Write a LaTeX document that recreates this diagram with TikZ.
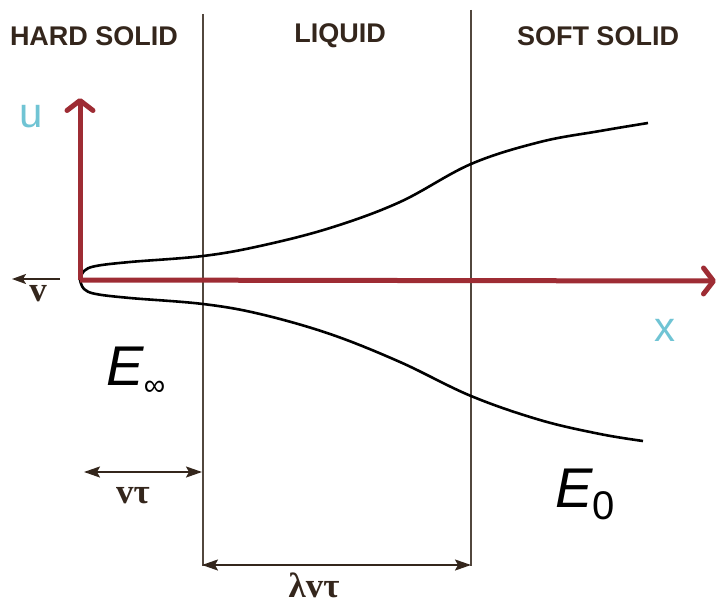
\documentclass[tikz,border=0pt]{standalone}
\usepackage{fontspec}
\usetikzlibrary{arrows.meta}
\newfontfamily\headfont{Liberation Sans}
\newfontfamily\greekfont{Liberation Serif}
\definecolor{axisred}{RGB}{158,44,52}
\definecolor{inkbrown}{RGB}{52,38,28}
\definecolor{labelcyan}{RGB}{112,196,212}
\tikzset{
  axis/.style={line width=5pt, draw=axisred, -{Straight Barb[length=10pt,width=26pt,line width=5pt,line cap=round,line join=round]}},
  boundary/.style={line width=1.2pt, draw=inkbrown!85},
  profile/.style={line width=2.6pt, draw=black},
  dimarrow/.style={line width=2pt, draw=inkbrown, {Stealth[length=16pt,width=11pt,inset=3pt]}-{Stealth[length=16pt,width=11pt,inset=3pt]}},
  header/.style={text=inkbrown, font=\headfont\bfseries\fontsize{27}{30}\selectfont},
  dimlabel/.style={text=inkbrown, font=\greekfont\bfseries\fontsize{35}{37}\selectfont},
  axislabel/.style={text=labelcyan, font=\headfont\fontsize{42}{44}\selectfont},
  modlabel/.style={font=\headfont\itshape\fontsize{56}{58}\selectfont}
}
\begin{document}
\begin{tikzpicture}[x=1pt,y=-1pt]
    \useasboundingbox (0,0) rectangle (717,604);
    \coordinate (O) at (80,280);
    \coordinate (utip) at (80,98);
    \coordinate (xtip) at (716,281);
    \coordinate (b1top) at (203,14);
    \coordinate (b1bot) at (203,566);
    \coordinate (b2top) at (471,10);
    \coordinate (b2bot) at (471,566);
    \coordinate (vstart) at (60,279);
    \coordinate (vend) at (12,279);
    \node[header] (hard) at (94,36) {HARD SOLID};
    \node[header] (liquid) at (340,36) {LIQUID};
    \node[header] (soft) at (598,36) {SOFT SOLID};
    \draw[boundary] (b1top) -- (b1bot);
    \draw[boundary] (b2top) -- (b2bot);
    \draw[profile] plot[smooth, tension=0.6] coordinates {(80,280) (84,271) (96,266) (130,262) (203,256) (260,246) (330,228) (400,202) (471,164) (540,142) (600,131) (648,123)};
    \draw[profile] plot[smooth, tension=0.6] coordinates {(80,280) (84,289) (96,294) (130,298) (203,304) (260,314) (330,334) (400,362) (471,396) (540,420) (600,434) (643,441)};
    \draw[axis] (O) -- (utip);
    \draw[axis] (O) -- (xtip);
    \draw[line width=1.8pt, draw=inkbrown, -{Stealth[length=14pt,width=10pt,inset=3pt]}] (vstart) -- (vend);
    \node[axislabel] (ulabel) at (31,117) {u};
    \node[axislabel] (xlabel) at (665,330) {x};
    \node[dimlabel] (vlabel) at (38,294) {v};
    \node[modlabel] (einf) at (136,371) {E\raisebox{-10pt}{\upshape\fontsize{30}{30}\selectfont ∞}};
    \node[modlabel] (ezero) at (585,494) {E\raisebox{-12pt}{\upshape\fontsize{40}{40}\selectfont 0}};
    \coordinate (vtl) at (84,472);
    \coordinate (vtr) at (202,472);
    \coordinate (lvl) at (202,565);
    \coordinate (lvr) at (471,565);
    \draw[dimarrow] (vtl) -- (vtr);
    \draw[dimarrow] (lvl) -- (lvr);
    \node[dimlabel] (vtau) at (133,496) {vτ};
    \node[dimlabel] (lvtau) at (314,585) {λvτ};
\end{tikzpicture}
\end{document}
